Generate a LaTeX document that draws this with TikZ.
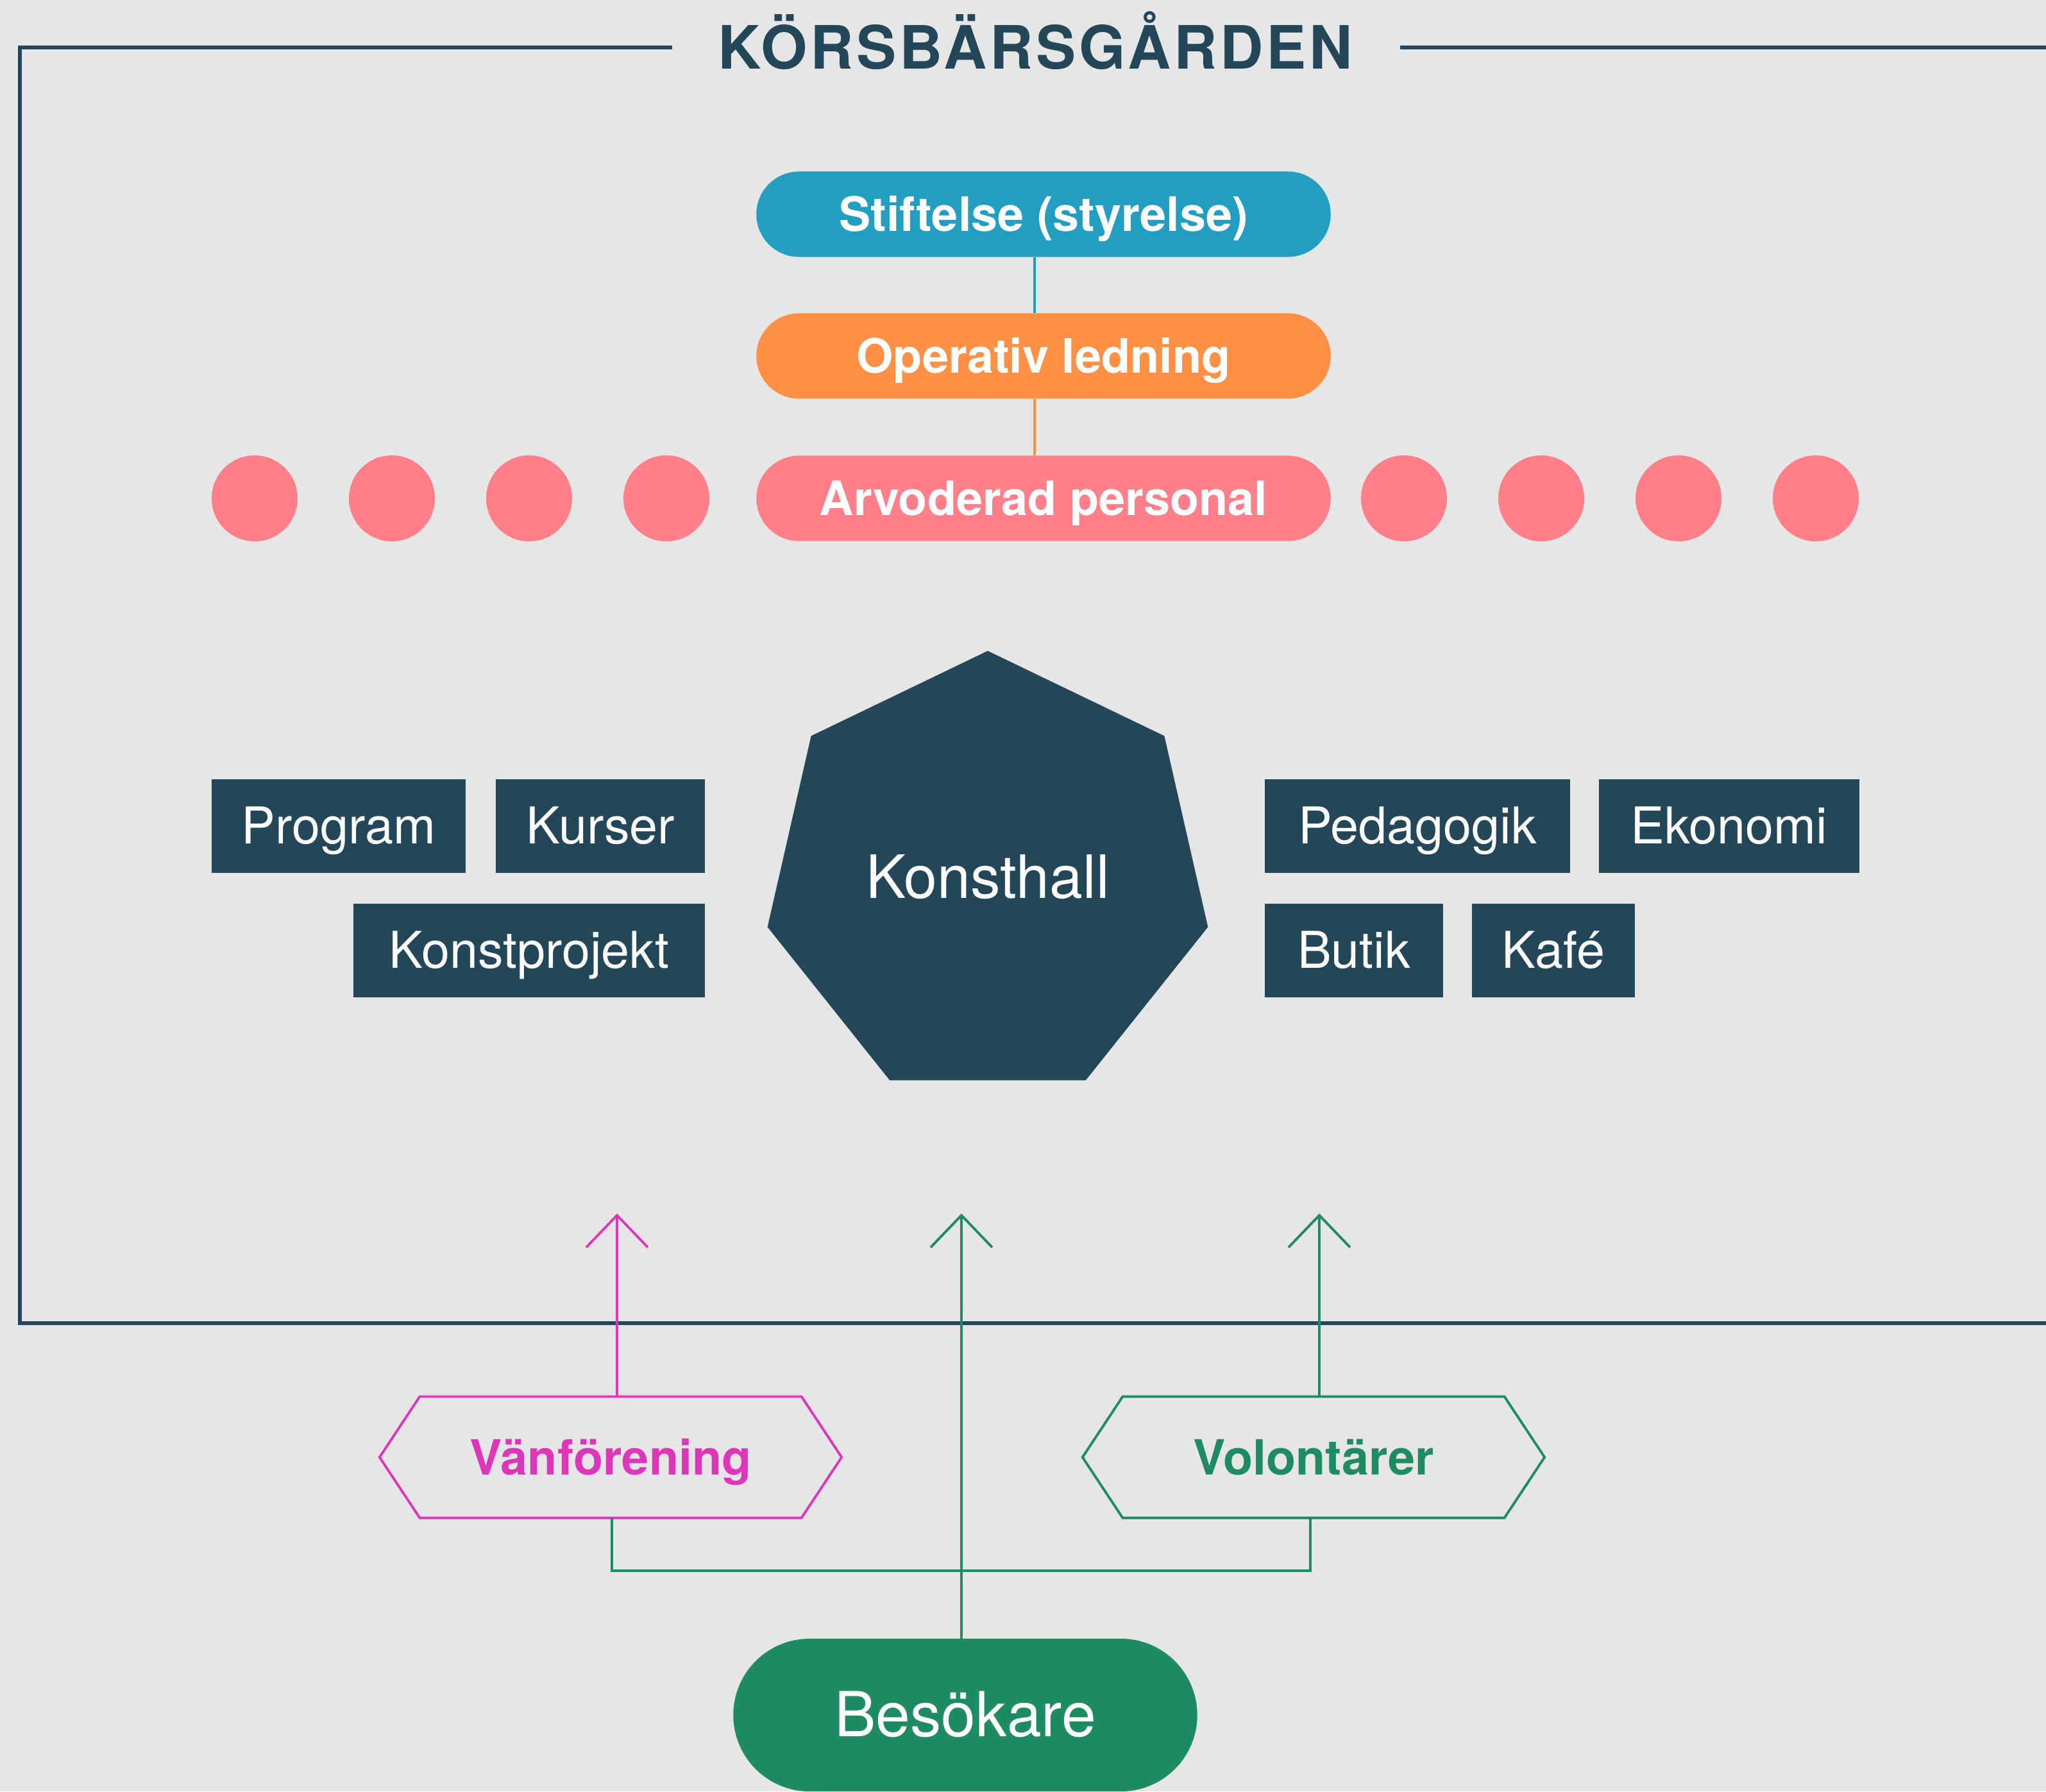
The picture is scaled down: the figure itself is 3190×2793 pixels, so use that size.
\documentclass[tikz,border=0pt]{standalone}
\usepackage{fontspec}
\setmainfont{TeX Gyre Heros}
\newfontfamily\spacedfont[LetterSpace=5]{TeX Gyre Heros}
\usetikzlibrary{arrows.meta,shapes.geometric,shapes.misc,shapes.symbols}

\definecolor{bg}{HTML}{E6E6E6}
\definecolor{navy}{HTML}{234659}
\definecolor{sky}{HTML}{229EC2}
\definecolor{orng}{HTML}{FF9146}
\definecolor{rose}{HTML}{FF808A}
\definecolor{mag}{HTML}{DD37B9}
\definecolor{grn}{HTML}{1F8B62}

\newcommand{\sizeA}{\fontsize{21pt}{25pt}\selectfont}
\newcommand{\sizeB}{\fontsize{26.5pt}{32pt}\selectfont}

\begin{document}
\begin{tikzpicture}
	[x=0.01cm,y=-0.01cm,
	 every node/.style={inner sep=0pt, outer sep=0pt, text depth=0pt},
	 pill/.style={rounded rectangle, minimum width=8.95cm, minimum height=1.33cm, text=white, text height=0.53cm, font=\sizeA\bfseries},
	 dot/.style={circle, fill=rose, minimum size=1.34cm},
	 unit/.style={rectangle, fill=navy, text=white, minimum height=1.46cm, text height=0.55cm, font=\fontsize{22.5pt}{27pt}\selectfont},
	 tag/.style={signal, signal to=west and east, fill=bg, line width=1.1pt, minimum width=7.2cm, minimum height=1.89cm, signal pointer angle=113, text height=0.54cm, font=\fontsize{21.5pt}{26pt}\selectfont\bfseries},
	 link/.style={line width=1.1pt},
	 arr/.style={link, -{Straight Barb[length=5mm,width=9.6mm]}},
	 frame/.style={navy, line width=1.7pt}]
	\fill[bg] (0,0) rectangle (3190,2793);
	\clip (0,0) rectangle (3190,2793);
	
	\draw[frame] (1048,74) -- (31,74) -- (31,2063) -- (3300,2063);
	\draw[frame] (2183,74) -- (3300,74);
	\node[text=navy, text height=0.67cm, font=\sizeB\spacedfont\bfseries] (title) at (1614,74) {KÖRSBÄRSGÅRDEN};
	
	\node[pill, fill=sky] (p1) at (1627,334) {Stiftelse (styrelse)};
	\node[pill, fill=orng] (p2) at (1627,555) {Operativ ledning};
	\node[pill, fill=rose] (p3) at (1627,777) {Arvoderad personal};
	\foreach \x [count=\i] in {397,611,825,1039,2189,2403,2617,2831}
		\node[dot] (c\i) at (\x,777) {};
	
	\coordinate (ax) at (1613,0);
	\draw[link, sky] (p1.south -| ax) -- (p2.north -| ax);
	\draw[link, orng] (p2.south -| ax) -- (p3.north -| ax);
	
	\node[regular polygon, regular polygon sides=7, fill=navy, minimum size=7.04cm, text=white, text height=0.67cm, font=\sizeB] (hall) at (1540,1367) {Konsthall};
	
	\node[unit, minimum width=3.96cm] (r1) at (528,1288) {Program};
	\node[unit, minimum width=3.26cm] (r2) at (936,1288) {Kurser};
	\node[unit, minimum width=5.48cm] (r3) at (825,1482) {Konstprojekt};
	\node[unit, minimum width=4.75cm] (r4) at (2210,1288) {Pedagogik};
	\node[unit, minimum width=4.05cm] (r5) at (2696,1288) {Ekonomi};
	\node[unit, minimum width=2.77cm] (r6) at (2111,1482) {Butik};
	\node[unit, minimum width=2.54cm] (r7) at (2422,1482) {Kafé};
	
	\node[tag, draw=mag, text=mag] (vf) at (952,2272) {Vänförening};
	\node[tag, draw=grn, text=grn] (vol) at (2048,2272) {Volontärer};
	\node[rounded rectangle, fill=grn, minimum width=7.23cm, minimum height=2.38cm, text=white, text height=0.67cm, font=\fontsize{27.5pt}{33pt}\selectfont] (bes) at (1505,2674) {Besökare};
	
	\coordinate (t1) at (962,1892);
	\coordinate (t2) at (1499,1892);
	\coordinate (t3) at (2057,1892);
	\draw[arr, mag] (vf.north -| t1) -- (t1);
	\draw[arr, grn] (bes.north -| t2) -- (t2);
	\draw[arr, grn] (vol.north -| t3) -- (t3);
	
	\coordinate (j1) at (954,2449);
	\coordinate (j2) at (2043,2449);
	\draw[link, grn] (vf.south -| j1) -- (j1) -- (j2) -- (vol.south -| j2);
\end{tikzpicture}
\end{document}
